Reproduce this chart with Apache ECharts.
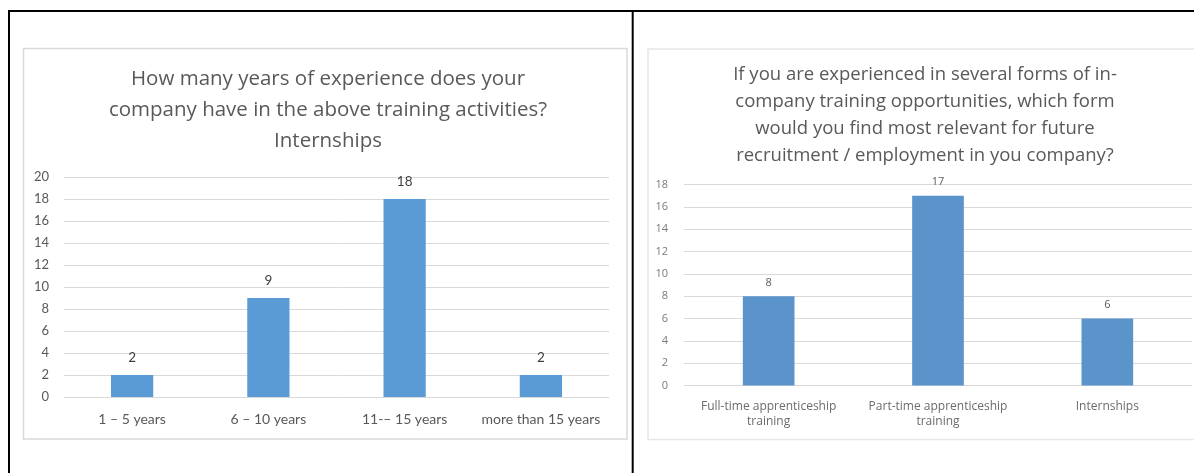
<!DOCTYPE html>
<html>
<head>
<meta charset="utf-8">
<script src="https://cdn.jsdelivr.net/npm/echarts@6/dist/echarts.min.js"></script>
<style>
  html, body { margin: 0; padding: 0; background: #ffffff; }
  #chart { width: 1194px; height: 473px; }
</style>
</head>
<body>
<div id="chart"></div>
<script>
// Left panel: years of experience with internships
const yearCategories = ['1 – 5 years', '6 – 10 years', '11-– 15 years', 'more than 15 years'];
const yearCounts = [2, 9, 18, 2];
const yearTicks = { min: 0, max: 20, interval: 2 };

// Right panel: most relevant form of in-company training
const formCategories = ['Full-time apprenticeship\ntraining', 'Part-time apprenticeship\ntraining', 'Internships'];
const formCounts = [8, 17, 6];
const formTicks = { min: 0, max: 18, interval: 2 };

const leftTitle = 'How many years of experience does your\ncompany have in the above training activities?\nInternships';
const rightTitle = 'If you are experienced in several forms of in-\ncompany training opportunities, which form\nwould you find most relevant for future\nrecruitment / employment in you company?';

const LATO = 'Lato, "Open Sans", sans-serif';
const OPEN = '"Open Sans", Lato, sans-serif';
const chart = echarts.init(document.getElementById('chart'), null, { renderer: 'canvas' });

function valueAxis(gridIndex, ticks, font, fontSize, color, margin) {
  return {
    type: 'value', gridIndex,
    min: ticks.min, max: ticks.max, interval: ticks.interval,
    axisLine: { show: false }, axisTick: { show: false },
    axisLabel: { color, fontSize, fontFamily: font, margin },
    splitLine: { lineStyle: { color: '#d9d9d9', width: 1 } }
  };
}

function categoryAxis(gridIndex, data, font, fontSize, color, margin, lineHeight) {
  return {
    type: 'category', gridIndex, data,
    axisLine: { show: false }, axisTick: { show: false },
    axisLabel: { interval: 0, color, fontSize, fontFamily: font, margin, lineHeight }
  };
}

chart.setOption({
  animation: false,
  backgroundColor: '#ffffff',
  title: [
    {
      text: leftTitle, left: 323, top: 59, textAlign: 'center',
      textStyle: { fontFamily: OPEN, fontSize: 20.5, fontWeight: 'normal', color: '#595959', lineHeight: 31 }
    },
    {
      text: rightTitle, left: 920, top: 56, textAlign: 'center',
      textStyle: { fontFamily: OPEN, fontSize: 18.5, fontWeight: 'normal', color: '#595959', lineHeight: 27 }
    }
  ],
  grid: [
    { left: 64, right: 585, top: 177, bottom: 76 },
    { left: 684, right: 2, top: 184.5, bottom: 87.5 }
  ],
  xAxis: [
    categoryAxis(0, yearCategories, LATO, 14, '#595959', 14, 16),
    categoryAxis(1, formCategories, OPEN, 12, '#6b6b6b', 14, 15)
  ],
  yAxis: [
    valueAxis(0, yearTicks, LATO, 13, '#595959', 15),
    valueAxis(1, formTicks, OPEN, 11, '#7a7a7a', 16)
  ],
  series: [
    {
      type: 'bar', xAxisIndex: 0, yAxisIndex: 0, data: yearCounts,
      barWidth: '31%',
      itemStyle: { color: '#5b9bd5' },
      label: { show: true, position: 'top', distance: 10, fontFamily: LATO, fontSize: 13.5, color: '#404040' }
    },
    {
      type: 'bar', xAxisIndex: 1, yAxisIndex: 1, data: formCounts,
      barWidth: '30.5%',
      itemStyle: { color: '#5b93cb' },
      label: { show: true, position: 'top', distance: 8, fontFamily: OPEN, fontSize: 11, color: '#595959' }
    }
  ],
  graphic: [
    // chart area frames
    { type: 'rect', silent: true, shape: { x: 23.5, y: 48.5, width: 603.5, height: 390.5 },
      style: { fill: 'none', stroke: '#d9d9d9', lineWidth: 1.5 } },
    { type: 'rect', silent: true, shape: { x: 648, y: 49, width: 560, height: 390.5 },
      style: { fill: 'none', stroke: '#e6e6e6', lineWidth: 1.5 } },
    // surrounding table rules
    { type: 'line', silent: true, shape: { x1: 8, y1: 11, x2: 1194, y2: 11 },
      style: { stroke: '#000000', lineWidth: 2 } },
    { type: 'line', silent: true, shape: { x1: 9, y1: 10, x2: 9, y2: 473 },
      style: { stroke: '#000000', lineWidth: 2 } },
    { type: 'line', silent: true, shape: { x1: 632.7, y1: 10, x2: 632.7, y2: 473 },
      style: { stroke: '#000000', lineWidth: 2 } }
  ]
});
</script>
</body>
</html>
